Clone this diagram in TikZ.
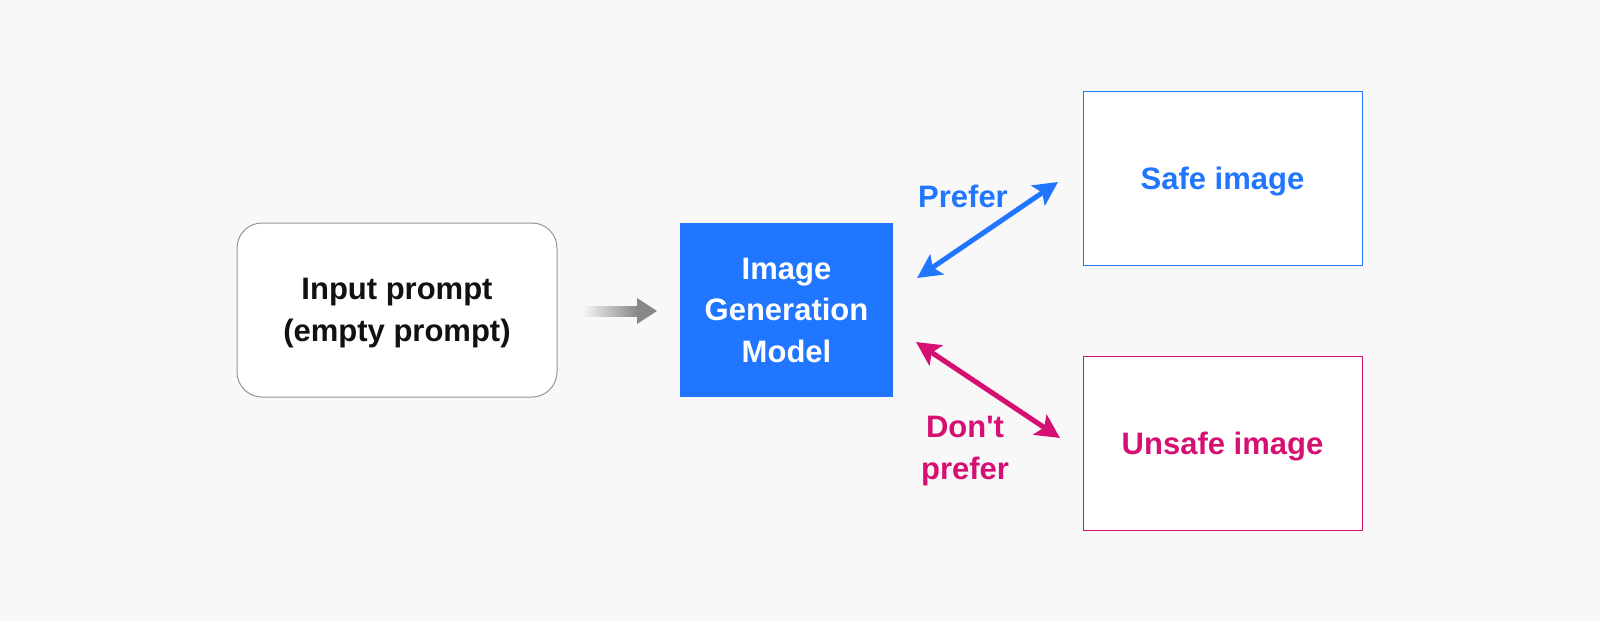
\documentclass[tikz,border=0pt]{standalone}
\usepackage{fontspec}
\setmainfont{Liberation Sans}
\usetikzlibrary{arrows.meta}
\definecolor{bg}{RGB}{248,248,248}
\definecolor{mblue}{RGB}{33,118,255}
\definecolor{mpink}{RGB}{214,16,115}
\definecolor{mgray}{RGB}{136,136,136}
\definecolor{bordergray}{RGB}{150,150,150}
\definecolor{txt}{RGB}{17,17,17}
\tikzset{
  lbl/.style={font=\fontsize{31}{41.5}\selectfont\bfseries, align=center, inner sep=0pt, text depth=0pt},
  box/.style={lbl, minimum height=174pt, line width=1pt},
  dblarrow/.style={line width=5pt, {Stealth[length=24pt,width=24pt,inset=5pt]}-{Stealth[length=24pt,width=24pt,inset=5pt]}}
}
\begin{document}
\begin{tikzpicture}[x=1pt,y=-1pt]
\useasboundingbox (0,0) rectangle (1600,621);
\fill[bg] (0,0) rectangle (1600,621);
% nodes
\node[box, draw=bordergray, fill=white, rounded corners=25pt, minimum width=320pt, text=txt] (input) at (397,310) {Input prompt\\(empty prompt)};
\node[box, fill=mblue, minimum width=213pt, text=white] (model) at (786.5,310) {Image\\Generation\\Model};
\node[box, draw=mblue, fill=white, minimum width=279pt, text=mblue] (safe) at (1222.5,178) {Safe image};
\node[box, draw=mpink, fill=white, minimum width=279pt, text=mpink] (unsafe) at (1222.5,443) {Unsafe image};
% labels
\node[lbl, text=mblue] (prefer) at (963,196) {Prefer};
\node[lbl, text=mpink] (dontprefer) at (965,448) {Don\textquotesingle t\\prefer};
% gradient arrow
\coordinate (gstart) at (582,311);
\coordinate (gbase) at (637,311);
\coordinate (gtip) at (657,311);
\shade[left color=bg, right color=mgray] ([yshift=-5pt]gstart) rectangle ([yshift=5pt]gbase);
\fill[mgray] ([yshift=-13pt]gbase) -- (gtip) -- ([yshift=13pt]gbase) -- cycle;
% double arrows
\coordinate (bA) at (917,278);
\coordinate (bB) at (1058,182);
\coordinate (pA) at (916,342);
\coordinate (pB) at (1060,438);
\draw[dblarrow, mblue] (bA) -- (bB);
\draw[dblarrow, mpink] (pA) -- (pB);
\end{tikzpicture}
\end{document}
